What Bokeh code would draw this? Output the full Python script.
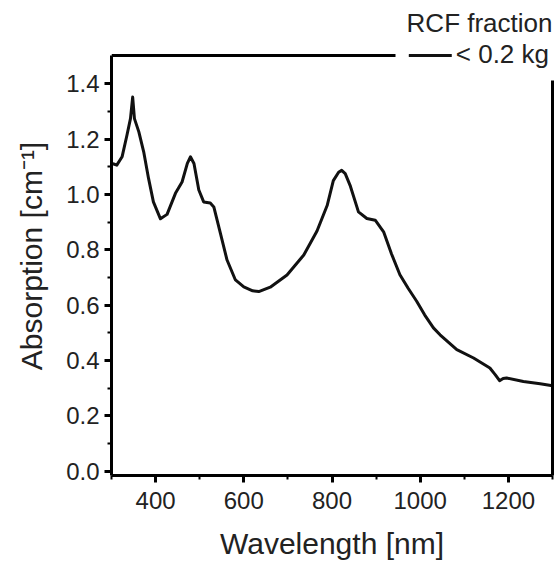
from bokeh.plotting import figure
from bokeh.models import (FixedTicker, Range1d, Legend, LegendItem,
                          PrintfTickFormatter, LinearAxis)
from bokeh.embed import file_html
from bokeh.resources import INLINE

# ---- data ----
wavelength_nm = [300, 305, 312, 324, 335, 343, 348, 352, 362, 373, 384, 395,
                 411, 426, 445, 460, 472, 479, 487, 498, 509, 524, 532, 547,
                 562, 581, 600, 620, 634, 660, 698, 736, 766, 789, 803, 815,
                 822, 830, 841, 860, 879, 898, 917, 935, 954, 973, 992, 1010,
                 1030, 1045, 1083, 1121, 1158, 1170, 1180, 1188, 1196, 1234,
                 1272, 1300]
absorption = [1.112, 1.110, 1.106, 1.136, 1.214, 1.274, 1.352, 1.274, 1.226,
              1.154, 1.058, 0.973, 0.912, 0.928, 1.004, 1.045, 1.112, 1.136,
              1.112, 1.016, 0.973, 0.969, 0.955, 0.859, 0.763, 0.691, 0.666,
              0.652, 0.649, 0.665, 0.709, 0.781, 0.868, 0.960, 1.050, 1.080,
              1.087, 1.075, 1.033, 0.937, 0.913, 0.907, 0.865, 0.785, 0.710,
              0.660, 0.614, 0.565, 0.518, 0.493, 0.439, 0.409, 0.373, 0.349,
              0.327, 0.335, 0.337, 0.324, 0.316, 0.309]

x_major = [400, 600, 800, 1000, 1200]
x_minor = [300, 500, 700, 900, 1100, 1300]
y_major = [0.0, 0.2, 0.4, 0.6, 0.8, 1.0, 1.2, 1.4]
y_minor = [0.1, 0.3, 0.5, 0.7, 0.9, 1.1, 1.3]

series_label = "< 0.2 kg"
legend_title = "RCF fraction"
x_title = "Wavelength [nm]"
y_title = "Absorption [cm\u207b\u00b9]"

# axis extents
x_lo, x_hi = 300, 1300
y_lo, y_box_top = -0.0155, 1.502      # plot box top line
y_view_top = 1.5707                   # room above the box for the legend row
y_right_top = 1.412                   # right box line stops below legend
x_top_line_end = 943                  # top box line stops before legend

FONT = "Liberation Sans"
INK = "#222222"

p = figure(width=555, height=562, output_backend="svg", toolbar_location=None,
           x_range=Range1d(x_lo, x_hi), y_range=Range1d(y_lo, y_view_top),
           min_border_left=111, min_border_right=3, min_border_top=36,
           min_border_bottom=86, background_fill_color="white",
           border_fill_color="white")

p.grid.visible = False
p.outline_line_color = None

r = p.line(wavelength_nm, absorption, line_color="#111111", line_width=3,
           line_join="round", line_cap="round")

for ax in (p.xaxis[0], p.yaxis[0]):
    ax.axis_line_width = 3
    ax.axis_line_color = "black"
    ax.major_tick_in = 0
    ax.major_tick_out = 7
    ax.minor_tick_in = 0
    ax.minor_tick_out = 4
    ax.major_tick_line_width = 3
    ax.minor_tick_line_width = 2
    ax.major_tick_line_color = "black"
    ax.minor_tick_line_color = "black"
    ax.major_label_text_font = FONT
    ax.major_label_text_font_size = "24px"
    ax.major_label_text_color = INK
    ax.axis_label_text_font = FONT
    ax.axis_label_text_font_size = "30px"
    ax.axis_label_text_font_style = "normal"
    ax.axis_label_text_color = INK

p.xaxis.ticker = FixedTicker(ticks=x_major, minor_ticks=x_minor)
p.yaxis.ticker = FixedTicker(ticks=y_major, minor_ticks=y_minor)
p.yaxis.formatter = PrintfTickFormatter(format="%.1f")
p.yaxis.bounds = (y_lo, y_box_top)
p.xaxis.axis_label = x_title
p.yaxis.axis_label = y_title
p.xaxis.major_label_standoff = 9
p.xaxis.axis_label_standoff = 15
p.yaxis.major_label_standoff = 5
p.yaxis.axis_label_standoff = 15

# right side of the box
ra = LinearAxis(bounds=(y_lo, y_right_top), ticker=FixedTicker(ticks=[]),
                major_tick_in=0, major_tick_out=0, minor_tick_in=0,
                minor_tick_out=0, major_label_standoff=0,
                major_label_text_font_size="0px",
                axis_line_width=3, axis_line_color="black")
p.add_layout(ra, "right")

# top side of the box (ends before the legend entry)
ta = LinearAxis(fixed_location=y_box_top, bounds=(x_lo, x_top_line_end),
                ticker=FixedTicker(ticks=[]),
                major_tick_in=0, major_tick_out=0, minor_tick_in=0,
                minor_tick_out=0, major_label_standoff=0,
                major_label_text_font_size="0px",
                axis_line_width=3, axis_line_color="black")
p.add_layout(ta, "above")

# legend title as plot title (right aligned above the box)
p.title.text = legend_title
p.title.align = "right"
p.title.text_font = FONT
p.title.text_font_size = "26px"
p.title.text_font_style = "normal"
p.title.text_color = INK
p.title.standoff = -2

legend = Legend(items=[LegendItem(label=series_label, renderers=[r])],
                location="top_right")
legend.label_text_font = FONT
legend.label_text_font_size = "26px"
legend.label_text_color = INK
legend.glyph_width = 43
legend.glyph_height = 30
legend.label_height = 30
legend.label_standoff = 4
legend.padding = 0
legend.margin = 3
legend.spacing = 0
legend.border_line_color = None
legend.background_fill_color = "white"
legend.background_fill_alpha = 1
p.add_layout(legend)

open("out.html", "w").write(file_html(p, INLINE))
